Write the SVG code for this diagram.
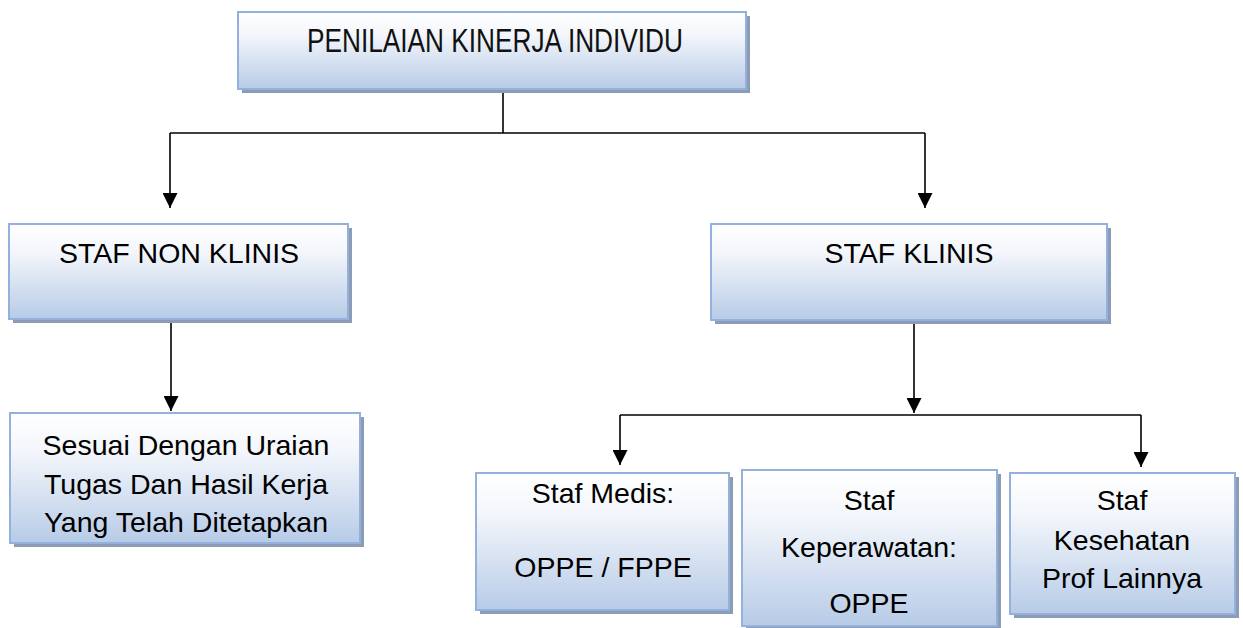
<svg xmlns="http://www.w3.org/2000/svg" width="1243" height="628" viewBox="0 0 1243 628">
<defs>
<linearGradient id="g" x1="0" y1="0" x2="0" y2="1">
<stop offset="0" stop-color="#ffffff"/>
<stop offset="0.3" stop-color="#f3f6fb"/>
<stop offset="1" stop-color="#b7cbe7"/>
</linearGradient>
<marker id="ah" viewBox="0 0 10 10" refX="10" refY="5" markerUnits="userSpaceOnUse" markerWidth="15" markerHeight="15" orient="auto">
<path d="M0,0 L10,5 L0,10 z" fill="#000"/>
</marker>
</defs>
<style>
.sh{fill:#8c9cb4}
.bx{fill:url(#g);stroke:#93b1dc;stroke-width:2}
.t{font-family:"Liberation Sans",Arial,sans-serif;font-size:28.5px;fill:#000;text-anchor:middle}
.tt{font-family:"Liberation Sans",Arial,sans-serif;font-size:33px;fill:#111;text-anchor:middle}
.c{stroke:#000;stroke-width:1.6;fill:none}
.a{marker-end:url(#ah)}
</style>
<g id="connectors">
<line class="c" x1="503" y1="89" x2="503" y2="133"/>
<line class="c" x1="170" y1="133" x2="925" y2="133"/>
<line class="c a" x1="170" y1="133" x2="170" y2="208"/>
<line class="c a" x1="925" y1="133" x2="925" y2="208"/>
<line class="c a" x1="171" y1="320" x2="171" y2="411"/>
<line class="c a" x1="914" y1="321" x2="914" y2="413"/>
<line class="c" x1="620" y1="415" x2="1141" y2="415"/>
<line class="c a" x1="620" y1="415" x2="620" y2="465"/>
<line class="c a" x1="1141" y1="415" x2="1141" y2="467"/>
</g>
<g id="n-top">
<rect class="sh" x="242" y="16" width="508" height="77"/>
<rect class="bx" x="238" y="12" width="508" height="77"/>
<text class="tt" x="495" y="52" textLength="376" lengthAdjust="spacingAndGlyphs">PENILAIAN KINERJA INDIVIDU</text>
</g>
<g id="n-nonklinis">
<rect class="sh" x="13" y="228" width="339" height="95"/>
<rect class="bx" x="9" y="224" width="339" height="95"/>
<text class="t" x="179" y="263">STAF NON KLINIS</text>
</g>
<g id="n-klinis">
<rect class="sh" x="715" y="228" width="396" height="96"/>
<rect class="bx" x="711" y="224" width="396" height="96"/>
<text class="t" x="909" y="263">STAF KLINIS</text>
</g>
<g id="n-sesuai">
<rect class="sh" x="14" y="417" width="350" height="130"/>
<rect class="bx" x="10" y="413" width="350" height="130"/>
<text class="t" x="186" y="455">Sesuai Dengan Uraian</text>
<text class="t" x="186" y="494">Tugas Dan Hasil Kerja</text>
<text class="t" x="186" y="532">Yang Telah Ditetapkan</text>
</g>
<g id="n-medis">
<rect class="sh" x="480" y="477" width="253" height="137"/>
<rect class="bx" x="476" y="473" width="253" height="137"/>
<text class="t" x="603" y="503">Staf Medis:</text>
<text class="t" x="603" y="577">OPPE / FPPE</text>
</g>
<g id="n-keperawatan">
<rect class="sh" x="746" y="474" width="255" height="156"/>
<rect class="bx" x="742" y="470" width="255" height="156"/>
<text class="t" x="869" y="510">Staf</text>
<text class="t" x="869" y="557">Keperawatan:</text>
<text class="t" x="869" y="613">OPPE</text>
</g>
<g id="n-kesehatan">
<rect class="sh" x="1014" y="477" width="225" height="141"/>
<rect class="bx" x="1010" y="473" width="225" height="141"/>
<text class="t" x="1122" y="510">Staf</text>
<text class="t" x="1122" y="550">Kesehatan</text>
<text class="t" x="1122" y="588">Prof Lainnya</text>
</g>
</svg>
